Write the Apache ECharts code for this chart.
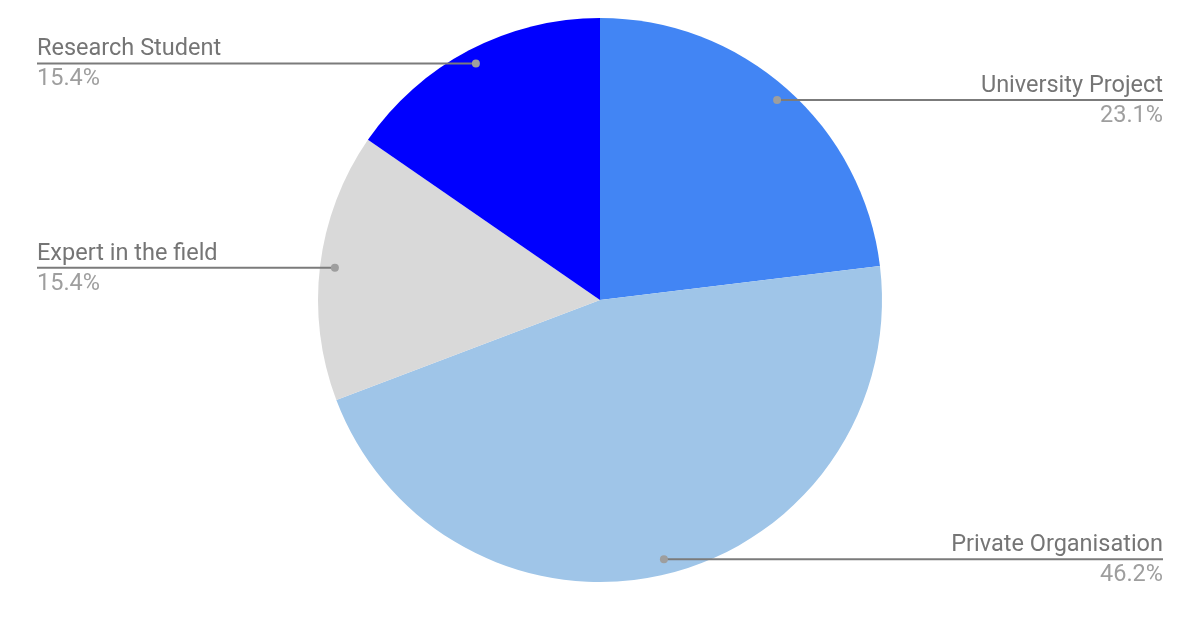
<!DOCTYPE html>
<html>
<head>
<meta charset="utf-8">
<script src="https://cdn.jsdelivr.net/npm/echarts@6/dist/echarts.min.js"></script>
<style>html,body{margin:0;padding:0;background:#fff}#c{width:1194px;height:618px}</style>
</head>
<body>
<div id="c"></div>
<script>
const categories = ['University Project', 'Private Organisation', 'Expert in the field', 'Research Student'];
const values = [23.1, 46.2, 15.4, 15.4];
const colors = ['#4285f4', '#9fc5e8', '#d9d9d9', '#0000ff'];

const total = values.reduce((a, b) => a + b, 0);
const labelPoints = [];
let acc = 0;
values.forEach((v, i) => { labelPoints.push([0.947, acc + v / 2, i]); acc += v; });

const chart = echarts.init(document.getElementById('c'));
const center = [600, 300];
const R = 282;
const FONT = 'Roboto';

chart.setOption({
  animation: false,
  polar: { center: center, radius: R },
  angleAxis: { type: 'value', min: 0, max: total, startAngle: 90, clockwise: true, show: false },
  radiusAxis: { min: 0, max: 1, show: false },
  series: [
    {
      type: 'pie',
      center: center,
      radius: R,
      startAngle: 90,
      clockwise: true,
      silent: true,
      label: { show: false },
      labelLine: { show: false },
      itemStyle: { borderWidth: 0 },
      data: categories.map((n, i) => ({ name: n, value: values[i], itemStyle: { color: colors[i] } }))
    },
    {
      type: 'custom',
      coordinateSystem: 'polar',
      silent: true,
      z: 5,
      encode: { radius: 0, angle: 1 },
      data: labelPoints,
      renderItem: function (params, api) {
        const i = api.value(2);
        const pt = api.coord([api.value(0), api.value(1)]);
        const cx = params.coordSys.cx;
        const left = pt[0] < cx;
        const W = api.getWidth();
        const edgeX = left ? 37 : W - 31;
        const align = left ? 'left' : 'right';
        return {
          type: 'group',
          children: [
            {
              type: 'line',
              shape: { x1: pt[0], y1: pt[1], x2: edgeX, y2: pt[1] },
              style: { stroke: '#7b7b7b', lineWidth: 2 }
            },
            {
              type: 'circle',
              shape: { cx: pt[0], cy: pt[1], r: 4 },
              style: { fill: '#9e9e9e' }
            },
            {
              type: 'text',
              x: edgeX, y: pt[1] + 1,
              style: {
                text: categories[i], fill: '#757575',
                font: '23.5px ' + FONT, align: align, verticalAlign: 'bottom', lineHeight: 30
              }
            },
            {
              type: 'text',
              x: edgeX, y: pt[1] + 1,
              style: {
                text: values[i].toFixed(1) + '%', fill: '#9e9e9e',
                font: '23.5px ' + FONT, align: align, verticalAlign: 'top', lineHeight: 30
              }
            }
          ]
        };
      }
    }
  ]
});
</script>
</body>
</html>
